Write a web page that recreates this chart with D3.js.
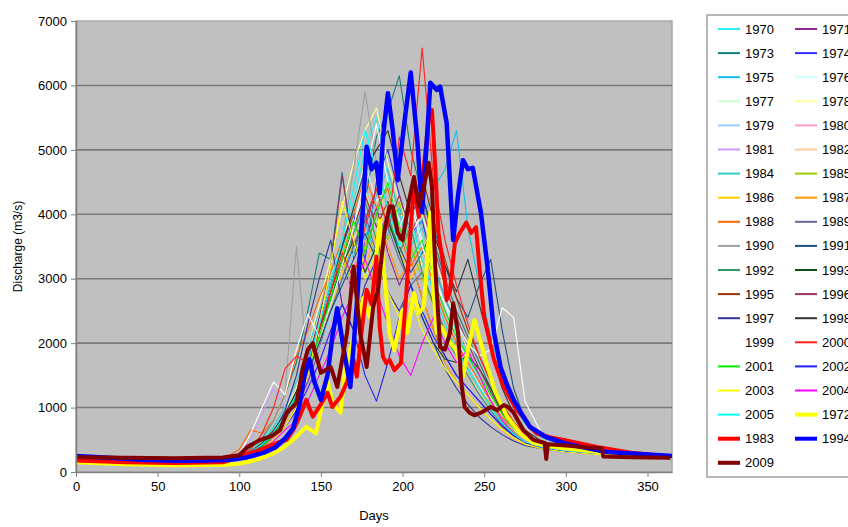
<!DOCTYPE html>
<html>
<head>
<meta charset="utf-8">
<script src="https://cdn.jsdelivr.net/npm/d3@7"></script>
<style>
body{margin:0;background:#fff;}
text{font-family:"Liberation Sans",Arial,sans-serif;fill:#000;}
</style>
</head>
<body>
<svg id="chart" width="848" height="527"></svg>
<script>
/*Shared day grid for the thin yearly lines*/
const days = [0,30,60,90,100,107,114,121,128,135,142,149,156,163,170,177,184,191,198,205,212,219,226,233,240,247,254,261,268,275,285,300,325,365];

/*Thin yearly series (m3/s)*/
const q1970 = [230,200,180,190,260,350,500,700,900,1300,1800,2300,2900,3400,4200,5000,5500,4600,3800,4300,3600,3000,2600,2200,1800,1400,1000,760,600,480,400,340,290,240];
const q1971 = [200,180,160,170,220,280,380,520,700,1000,1400,1900,2600,3200,2800,3600,4100,3400,2900,3300,2700,2200,1800,1500,1300,1100,900,700,560,460,380,330,280,240];
const q1973 = [240,210,190,200,280,380,520,800,1200,1700,2500,3400,3300,4650,3300,4200,5200,5600,6150,5000,4300,3600,3000,2500,2100,1700,1300,950,700,540,430,360,300,250];
const q1974 = [210,190,170,180,230,300,420,600,850,1200,1700,2200,2900,3500,4000,3300,4500,5000,4300,3700,3900,3200,2700,2300,1900,1500,1150,850,650,500,410,340,290,240];
const q1975 = [220,200,180,190,240,320,460,650,900,1250,1700,2200,2600,3100,3500,3900,3300,3700,4100,3600,3900,4400,4700,5300,3800,2900,2100,1500,1050,750,540,400,320,260];
const q1976 = [200,180,160,170,230,300,430,650,950,1400,1900,2500,3000,3600,4100,4800,4200,4500,3900,4300,3600,3100,2600,2100,1700,1350,1050,800,620,490,400,340,290,240];
const q1977 = [190,170,150,160,210,270,380,560,800,1150,1600,2100,2700,3300,3800,4400,3700,4100,3500,3900,3200,2700,2300,1900,1600,1300,1000,780,600,470,390,330,280,240];
const q1978 = [210,190,170,180,240,320,450,650,900,1300,1900,2600,3300,4100,4800,5300,5650,4800,4200,3700,4000,3400,2800,2300,1900,1500,1150,860,660,510,410,340,290,240];
const q1979 = [200,180,160,170,220,280,400,600,850,1100,1500,1900,2400,2900,3400,3000,3500,3900,3300,2900,3200,2700,2300,1900,1600,1300,1000,760,590,470,390,330,280,240];
const q1980 = [190,170,150,160,200,260,360,520,700,950,1300,1700,2200,2700,3200,3600,3000,3400,3800,3100,3500,2900,2400,2000,1700,1400,1100,820,620,480,400,330,280,240];
const q1981 = [220,200,180,190,300,500,900,1300,1000,1400,1800,2300,2800,3300,3800,4300,3700,4000,3400,2900,3100,2600,2200,1800,1500,1200,950,740,580,460,380,330,280,240];
const q1982 = [200,180,160,170,230,300,420,600,800,1100,1500,2000,2600,3100,3600,4100,4600,3900,3400,3800,3100,2600,2200,1800,1500,1250,1000,780,600,470,390,330,280,240];
const q1984 = [210,190,170,180,240,320,450,700,1000,1400,1900,2500,3000,3500,4100,3600,4300,4700,4000,3500,3800,3200,2700,2300,2000,1600,1250,900,680,520,420,350,290,240];
const q1985 = [200,180,160,170,220,290,400,600,850,1200,1600,2100,2700,3300,2900,3500,4000,3600,4200,3500,3000,2600,2200,1900,1600,1300,1050,800,620,480,400,330,280,240];
const q1986 = [190,170,150,160,210,270,380,550,780,1100,1500,2000,2500,3100,3600,3200,3700,4100,3500,3000,3300,2800,2300,1900,1600,1300,1000,760,590,470,390,330,280,240];
const q1987 = [210,190,170,180,240,310,430,620,870,1200,1650,2200,2800,3400,3900,3400,4000,3500,3000,3300,2700,2200,1700,1400,1200,1000,820,650,520,430,370,320,280,240];
const q1988 = [230,210,190,200,350,650,600,800,1200,1800,2200,2700,3100,3600,4000,4600,4100,4400,3700,3200,3500,2900,2400,2000,1700,1400,1100,850,680,540,450,380,320,270];
const q1989 = [200,180,160,170,220,280,390,560,800,1100,1500,2000,2500,3000,3500,4000,3400,3800,3300,2900,3100,2600,2200,1900,1600,1300,1000,770,600,470,390,330,280,240];
const q1990 = [220,200,180,190,250,360,550,800,1200,3500,1600,2200,2800,3600,4700,5900,4800,4100,3600,3900,3300,2800,2300,1900,1600,1300,1000,760,590,470,390,330,280,240];
const q1991 = [210,190,170,180,230,300,410,580,820,1150,1550,2000,2500,2900,3300,3700,3300,3900,3500,3100,3400,3800,3200,2700,2400,2900,3300,2200,1300,800,550,400,320,260];
const q1992 = [200,180,160,170,220,290,400,580,820,1150,1600,2100,2600,3200,3700,4200,3600,4000,3400,3800,3100,2600,2100,1800,1500,1200,950,740,580,460,380,330,280,240];
const q1993 = [210,190,170,180,240,310,430,620,880,1200,1650,2200,2700,3200,3600,3100,3500,3900,3400,2900,2400,2000,1750,1700,1800,1600,1300,950,700,530,420,350,290,240];
const q1995 = [220,200,180,190,240,320,450,650,900,1250,1700,2200,2800,3300,3800,4300,3800,4200,3600,4100,4600,3900,3300,2700,2200,1800,1400,1050,780,580,450,370,300,250];
const q1996 = [200,180,160,170,230,300,420,600,850,1200,1700,2400,3200,4600,3500,3900,4400,3800,4300,3700,4100,3500,2900,2400,2000,1600,1250,920,700,530,420,350,290,240];
const q1997 = [200,180,160,170,220,290,410,620,950,1500,2300,3000,3600,2600,2200,2900,3300,2800,2500,2900,2400,2000,1600,1300,1050,850,700,580,480,410,360,310,270,230];
const q1998 = [210,190,170,180,240,320,440,640,900,1250,1700,2300,2900,3500,4100,4700,5000,5300,4600,4000,4300,3700,3200,2800,3300,2600,1900,1300,900,650,480,380,310,250];
const q1999 = [230,210,190,200,280,600,1000,1400,1200,1900,2450,2100,2600,3200,3800,4600,5400,4500,3800,4200,3500,3000,2600,2300,2000,1800,1900,2550,2400,1100,600,420,330,260];
const q2000 = [220,200,180,190,250,350,600,1000,1600,1800,1700,2200,2800,3400,3000,3800,4400,3800,5200,4600,6580,4500,3600,2900,2300,1800,1400,1050,780,580,450,370,300,250];
const q2001 = [200,180,160,170,220,290,400,580,830,1150,1600,2100,2700,3300,3900,3400,4000,4500,3800,3300,3600,3000,2500,2100,1800,1500,1200,900,680,520,420,350,290,240];
const q2002 = [190,170,150,160,200,260,360,500,700,950,1300,1700,2200,2600,2200,1500,1100,1700,2400,2900,2500,2100,1800,1500,1300,1100,900,720,570,460,380,320,270,230];
const q2003 = [180,160,140,150,190,250,350,500,700,1000,1500,2300,3200,4200,3600,3000,3400,2800,2400,2700,2200,1900,1600,1400,1200,1000,820,660,530,430,360,310,260,220];
const q2004 = [190,170,150,160,200,260,350,480,650,800,1100,1500,1900,2400,2800,3300,2800,2300,1800,1500,2000,2400,2000,1700,1900,1500,1100,800,600,470,390,330,280,230];
const q2005 = [210,190,170,180,230,310,430,620,880,1200,1700,2300,2900,3600,4400,5300,4700,4100,3500,3900,3300,2800,2300,1900,1600,1300,1000,760,590,470,390,330,280,240];

/*Highlighted years, [day, discharge] pairs*/
const q1972 = [[0,150],[30,120],[60,105],[90,110],[100,130],[105,155],[113,210],[121,290],[127,380],[133,500],[141,700],[147,600],[154,1430],[157,1070],[162,920],[165,1630],[168,1900],[172,2250],[176,2700],[180,2400],[183,3100],[186,3900],[188,3300],[192,2160],[195,1890],[200,2520],[203,2160],[207,2780],[210,2470],[213,2560],[217,4020],[219,2780],[221,2160],[224,2250],[228,2050],[233,1890],[237,1480],[240,1890],[244,2360],[248,2000],[252,1630],[257,1230],[264,860],[272,600],[280,450],[295,380],[309,340],[330,280],[364,240]];
const q1983 = [[0,180],[30,150],[60,140],[90,150],[100,230],[110,320],[117,390],[123,450],[129,500],[133,650],[137,860],[141,1120],[145,860],[150,1050],[154,1230],[157,1010],[162,1170],[166,1400],[170,1740],[172,1480],[175,2200],[178,2830],[181,2600],[184,3340],[186,2250],[188,1790],[190,1690],[192,1740],[195,1580],[199,1690],[202,2670],[205,3800],[207,4430],[210,3960],[213,4740],[216,5470],[218,5620],[220,4740],[222,3710],[225,3190],[227,2670],[229,2800],[232,3550],[235,3710],[239,3870],[242,3710],[245,3800],[247,3190],[250,2410],[256,1740],[262,1320],[270,960],[274,850],[278,700],[282,600],[290,540],[298,500],[319,390],[340,300],[364,240]];
const q1994 = [[0,250],[20,220],[40,190],[60,175],[80,180],[95,190],[105,230],[115,300],[122,380],[128,520],[133,680],[137,1050],[140,1500],[143,1750],[146,1400],[150,1120],[154,1500],[157,2100],[160,2540],[164,1900],[168,1320],[172,2600],[176,4220],[178,5050],[181,4700],[184,4800],[186,4330],[188,5200],[191,5880],[194,5300],[197,4530],[201,5400],[205,6200],[209,5160],[212,4030],[215,5200],[217,6040],[221,5930],[223,5980],[227,5420],[231,3600],[234,4300],[237,4840],[240,4700],[243,4720],[248,4020],[252,3190],[256,2160],[260,1630],[264,1350],[268,1120],[273,900],[278,700],[288,540],[300,440],[309,390],[325,310],[345,280],[365,250]];
const q2009 = [[0,230],[30,220],[60,215],[90,225],[100,260],[105,390],[113,500],[120,560],[125,650],[129,920],[135,1070],[139,1630],[142,1900],[145,2000],[150,1540],[156,1630],[160,1320],[166,2160],[170,3190],[174,2160],[178,1630],[182,2560],[185,2830],[189,3760],[192,4120],[194,4120],[197,3710],[200,3600],[204,4220],[207,4580],[210,4120],[213,4430],[216,4800],[218,4430],[220,3190],[223,1940],[226,1900],[229,2160],[231,2620],[234,2160],[236,1380],[238,1010],[241,920],[244,880],[248,920],[254,1010],[258,960],[262,1040],[265,1000],[268,920],[274,650],[280,500],[287,450],[288,200],[289,430],[300,410],[309,390],[322,370],[323,240],[340,230],[364,220]];

/*Legend order and colours*/
const legendYears = ["1970","1971","1973","1974","1975","1976","1977","1978","1979","1980","1981","1982","1984","1985","1986","1987","1988","1989","1990","1991","1992","1993","1995","1996","1997","1998","1999","2000","2001","2002","2003","2004","2005","1972","1983","1994","2009"];
const legendColors = ["#33eeee","#8e2a8e","#13807a","#3030ff","#10c0f0","#ccffff","#ccffcc","#ffff99","#99ccff","#ff99cc","#cc99ff","#ffcc99","#33cccc","#99cc00","#ffcc00","#ff9900","#ff6600","#666699","#a0a0a0","#1f4f7f","#339966","#124a12","#993300","#993366","#333399","#333333","#ffffff","#ff2020","#00ee00","#2020ff","#ffff00","#ff00ff","#00ffff","#ffff00","#ff0000","#0000ff","#800000"];
const thickYears = ["1972","1983","1994","2009"];

const yTicks = [0,1000,2000,3000,4000,5000,6000,7000];
const xTicks = [0,50,100,150,200,250,300,350];

function main(){
    const svg = d3.select("#chart");

    const plot = {left: 76, right: 672, top: 21, bottom: 472};

    const x = d3.scaleLinear().domain([0,365]).range([plot.left, plot.right]);
    const y = d3.scaleLinear().domain([0,7000]).range([plot.bottom, plot.top]);

    /*grey plot background*/
    svg.append("rect")
        .attr("x", plot.left)
        .attr("y", plot.top)
        .attr("width", plot.right - plot.left)
        .attr("height", plot.bottom - plot.top)
        .style("fill", "#c0c0c0")
        .style("stroke", "#a8a8a8")
        .style("stroke-width", 1.5);

    /*horizontal gridlines*/
    svg.append("g").selectAll("line")
        .data(yTicks.filter(d=>d>0 && d<7000))
        .enter()
        .append("line")
        .attr("x1", plot.left)
        .attr("x2", plot.right)
        .attr("y1", d=>y(d))
        .attr("y2", d=>y(d))
        .style("stroke", "#7a7a7a")
        .style("stroke-width", 1.6);

    /*series table*/
    const thinArrays = [q1970,q1971,q1973,q1974,q1975,q1976,q1977,q1978,q1979,q1980,q1981,q1982,q1984,q1985,q1986,q1987,q1988,q1989,q1990,q1991,q1992,q1993,q1995,q1996,q1997,q1998,q1999,q2000,q2001,q2002,q2003,q2004,q2005];
    const thickArrays = [q1972,q1983,q1994,q2009];

    const series = [];
    thinArrays.forEach((arr,i)=>{
        series.push({
            year: legendYears[i],
            color: legendColors[i],
            width: 1.1,
            points: arr.map((v,j)=>[days[j], v]).filter(p=>p[0]!==undefined)
        });
    });
    thickArrays.forEach((arr,i)=>{
        const idx = legendYears.indexOf(thickYears[i]);
        series.push({
            year: thickYears[i],
            color: legendColors[idx],
            width: thickYears[i]==="1994" ? 4.5 : 4,
            points: arr
        });
    });

    const line = d3.line()
        .x(d=>x(d[0]))
        .y(d=>y(d[1]));

    svg.append("g")
        .attr("id", "lines")
        .selectAll("path")
        .data(series)
        .enter()
        .append("path")
        .attr("d", d=>line(d.points))
        .style("fill", "none")
        .style("stroke", d=>d.color)
        .style("stroke-width", d=>d.width)
        .style("stroke-linejoin", "round");

    /*axes, plain integer labels without thousands separator*/
    const yAxis = d3.axisLeft(y).tickValues(yTicks).tickFormat(d3.format("d")).tickSize(5).tickSizeOuter(0);
    const xAxis = d3.axisBottom(x).tickValues(xTicks).tickFormat(d3.format("d")).tickSize(5).tickSizeOuter(0);

    const gy = svg.append("g")
        .attr("transform", "translate(" + plot.left + ",0)")
        .call(yAxis);
    const gx = svg.append("g")
        .attr("transform", "translate(0," + plot.bottom + ")")
        .call(xAxis);

    [gy, gx].forEach(g=>{
        g.select(".domain").style("stroke", "#808080").style("stroke-width", 1.5);
        g.selectAll(".tick line").style("stroke", "#808080");
        g.selectAll(".tick text")
            .style("font-size", "13px")
            .style("font-family", "Liberation Sans, Arial, sans-serif")
            .style("fill", "#000");
    });
    gy.selectAll(".tick text").attr("x", -9);
    gx.selectAll(".tick text").attr("y", 10);

    /*axis titles*/
    svg.append("text")
        .attr("transform", "translate(22," + ((plot.top + plot.bottom)/2) + ") rotate(-90)")
        .attr("text-anchor", "middle")
        .style("font-size", "12px")
        .text("Discharge (m3/s)");

    svg.append("text")
        .attr("x", (plot.left + plot.right)/2)
        .attr("y", 520)
        .attr("text-anchor", "middle")
        .style("font-size", "13px")
        .text("Days");

    /*legend box, two columns (right column runs past the picture edge, as in the original)*/
    const legend = svg.append("g").attr("id", "legend");
    legend.append("rect")
        .attr("x", 707)
        .attr("y", 15)
        .attr("width", 160)
        .attr("height", 462)
        .style("fill", "#fff")
        .style("stroke", "#a0a0a0")
        .style("stroke-width", 1.5);

    const rowStep = 24.1;
    const items = legend.selectAll("g.item")
        .data(legendYears)
        .enter()
        .append("g")
        .attr("class", "item")
        .attr("transform", (d,i)=>"translate(" + (718 + (i%2)*77) + "," + (29 + Math.floor(i/2)*rowStep) + ")");

    items.append("line")
        .attr("x1", 0)
        .attr("x2", 22)
        .style("stroke", (d,i)=>legendColors[i])
        .style("stroke-width", d=>thickYears.includes(d) ? 4 : 2);

    items.append("text")
        .attr("x", 27)
        .attr("dy", "0.35em")
        .style("font-size", "13px")
        .text(d=>d);
}

main();
</script>
</body>
</html>
